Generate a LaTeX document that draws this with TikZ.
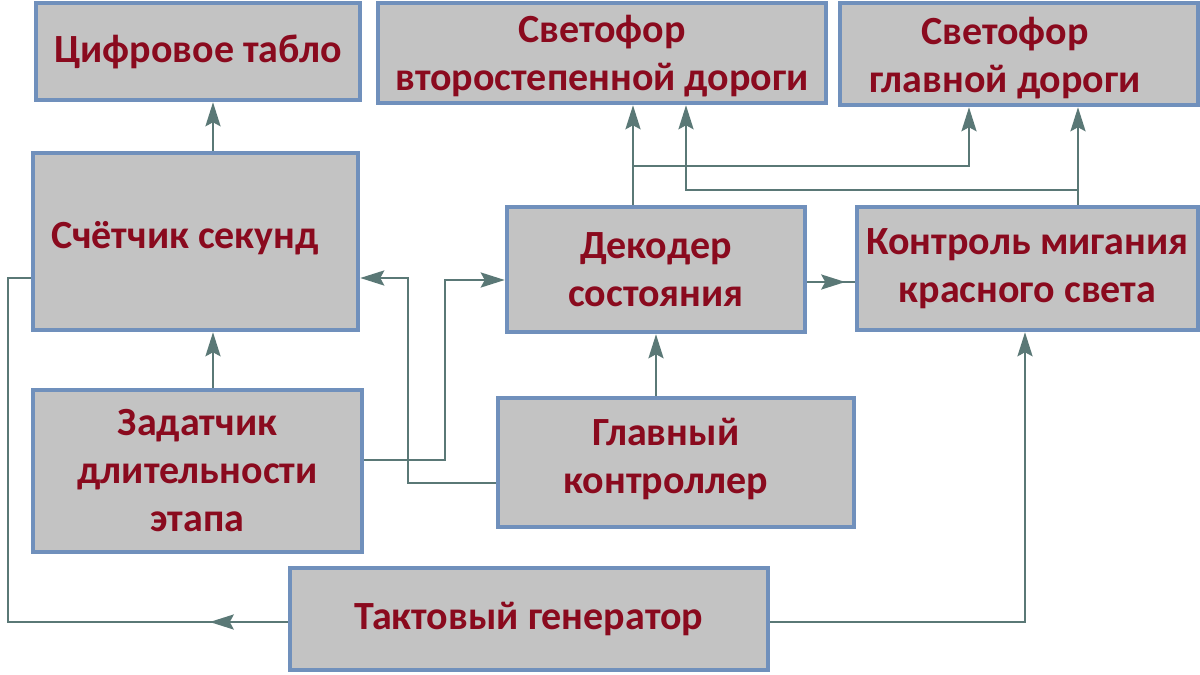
\documentclass[tikz,border=0pt]{standalone}
\usepackage{fontspec}
\setmainfont{Carlito}
\usetikzlibrary{arrows.meta,decorations.markings}
\definecolor{boxfill}{HTML}{C3C3C3}
\definecolor{boxline}{HTML}{7090BC}
\definecolor{txt}{HTML}{8A0A1E}
\definecolor{wire}{HTML}{5A7876}
\begin{document}
\begin{tikzpicture}[x=1pt,y=-1pt,
  blk/.style={draw=boxline,line width=4.5pt,fill=boxfill,text=txt,
    font=\fontsize{40}{48}\selectfont\bfseries,align=center,inner sep=0pt},
  lbl/.style={text=txt,font=\fontsize{40}{48}\selectfont\bfseries,align=center,inner sep=0pt},
  wire/.style={draw=wire,line width=2.5pt},
  tip/.style={-{Stealth[length=24pt,width=15pt,inset=4pt]}},
  midarr/.style={postaction={decorate},decoration={markings,
    mark=at position #1 with {\arrow{Stealth[length=24pt,width=15pt,inset=4pt]}}}}]
\useasboundingbox[fill=white] (0,0) rectangle (1200,675);
% boxes
\node[blk,minimum width=324pt,minimum height=97pt] (tab) at (198,51.5) {Цифровое табло};
\node[blk,minimum width=448pt,minimum height=100pt] (sv2) at (602,53) {};
\node[lbl] (sv2t) at (602,56) {Светофор\\второстепенной дороги};
\node[blk,minimum width=358pt,minimum height=102pt] (sv1) at (1019,54) {};
\node[lbl] (sv1t) at (1005,58) {Светофор\\главной дороги};
\node[blk,minimum width=325pt,minimum height=177pt] (cnt) at (195.5,241.5) {};
\node[lbl] (cntt) at (185,238) {Счётчик секунд};
\node[blk,minimum width=298pt,minimum height=125pt] (dek) at (656,269.5) {Декодер\\состояния};
\node[blk,minimum width=341pt,minimum height=123pt] (ctl) at (1027.5,268.5) {Контроль мигания\\красного света};
\node[blk,minimum width=329pt,minimum height=162pt] (zad) at (197.5,471) {Задатчик\\длительности\\этапа};
\node[blk,minimum width=356pt,minimum height=129pt] (gl) at (676,462.5) {};
\node[lbl] (glt) at (666,459) {Главный\\контроллер};
\node[blk,minimum width=478pt,minimum height=102pt] (tak) at (529,619) {Тактовый генератор};
% guide coordinates
\coordinate (xa) at (213,0);
\coordinate (xg) at (656,0);
\coordinate (xd1) at (633,0);
\coordinate (xd2) at (686,0);
\coordinate (xs1) at (969,0);
\coordinate (xc) at (1078,0);
\coordinate (xt) at (1025,0);
\coordinate (xl) at (8,0);
\coordinate (xm1) at (408,0);
\coordinate (xm2) at (445,0);
\coordinate (ya) at (0,166);
\coordinate (yb) at (0,190);
\coordinate (yl) at (0,278);
\coordinate (yr) at (0,280);
\coordinate (yz) at (0,460);
\coordinate (yg) at (0,483);
\coordinate (ytk) at (0,622);
\coordinate (ydc) at (0,282);
% connectors
\draw[wire,tip] (cnt.north -| xa) -- (tab.south -| xa);
\draw[wire,tip] (zad.north -| xa) -- (cnt.south -| xa);
\draw[wire,tip] (gl.north -| xg) -- (dek.south -| xg);
\draw[wire,midarr=38pt] (dek.east |- ydc) -- (ctl.west |- ydc);
\draw[wire,midarr=78pt] (tak.west |- ytk) -- (xl |- ytk) -- (xl |- yl) -- (cnt.west |- yl);
\draw[wire,tip] (tak.east |- ytk) -- (xt |- ytk) -- (ctl.south -| xt);
\draw[wire,tip] (zad.east |- yz) -- (xm2 |- yz) -- (xm2 |- yr) -- (dek.west |- yr);
\draw[wire,tip] (gl.west |- yg) -- (xm1 |- yg) -- (xm1 |- yl) -- (cnt.east |- yl);
\draw[wire,tip] (dek.north -| xd1) -- (sv2.south -| xd1);
\draw[wire,tip] (xd1 |- ya) -- (xs1 |- ya) -- (sv1.south -| xs1);
\draw[wire,tip] (ctl.north -| xc) -- (sv1.south -| xc);
\draw[wire,tip] (xc |- yb) -- (xd2 |- yb) -- (sv2.south -| xd2);
\end{tikzpicture}
\end{document}
